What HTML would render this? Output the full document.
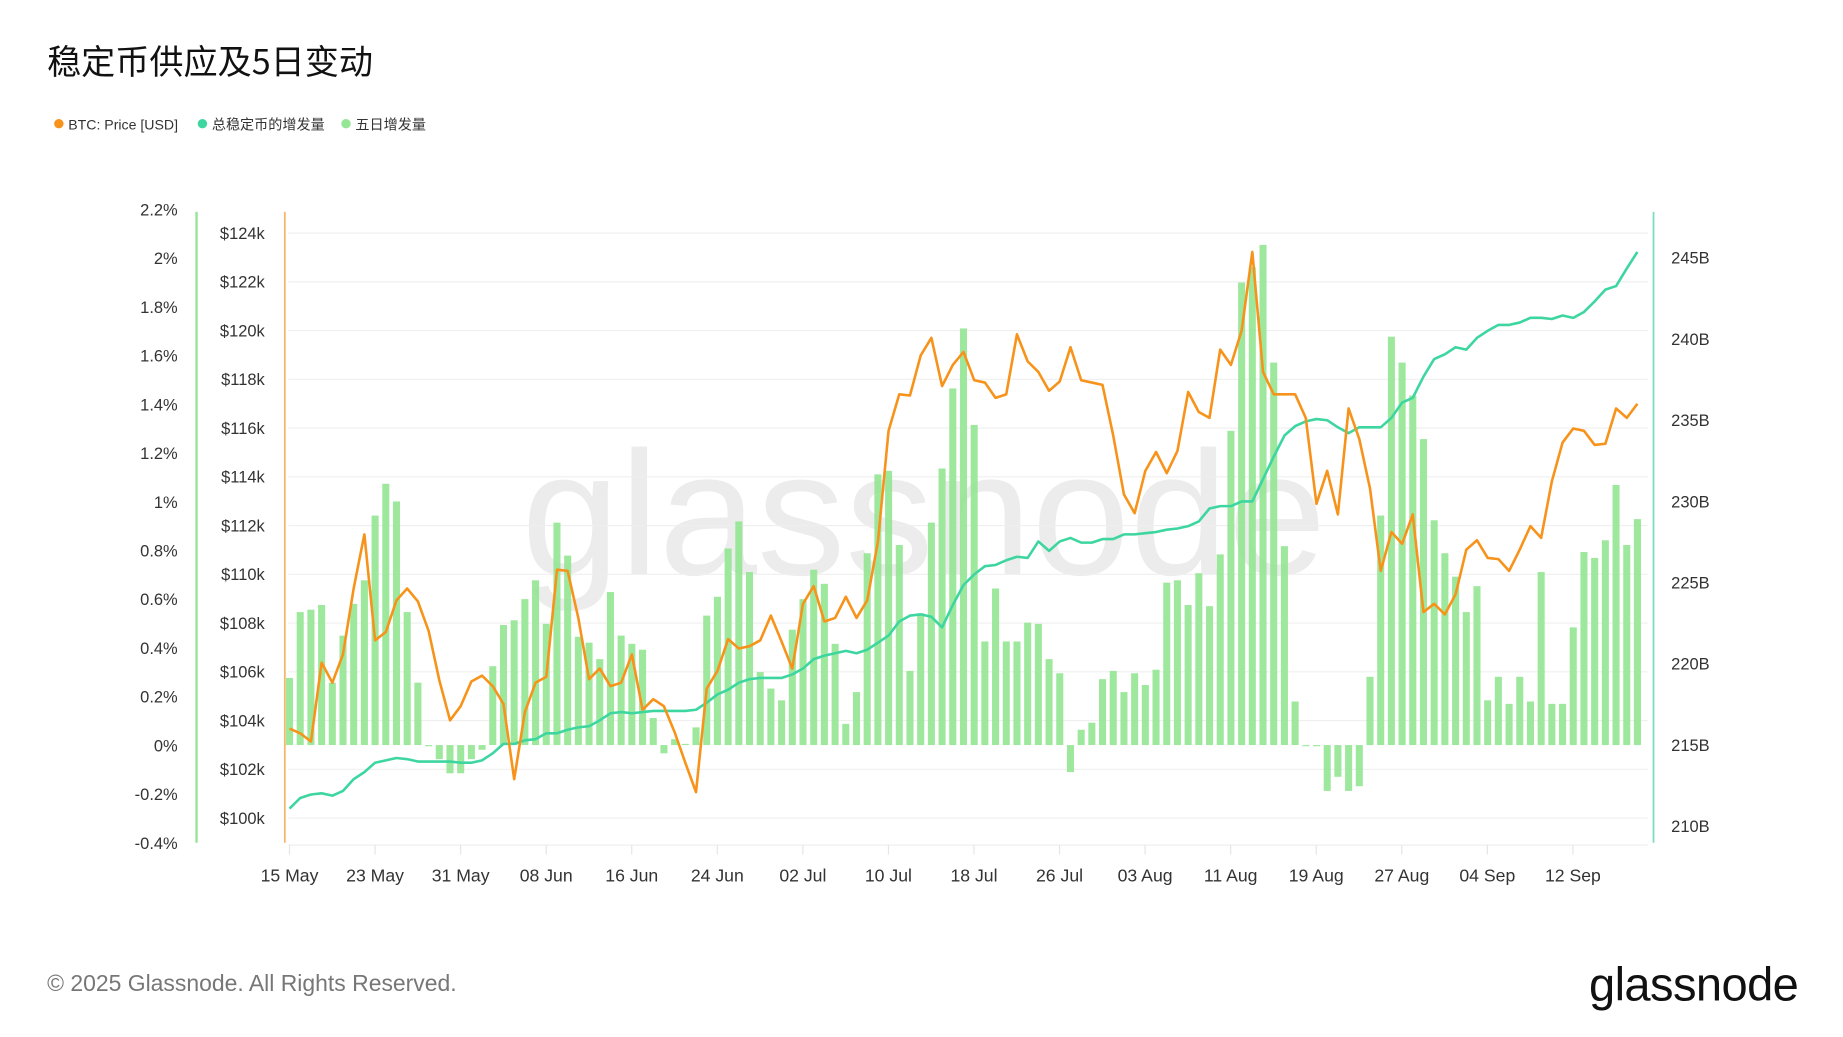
<!DOCTYPE html>
<html><head><meta charset="utf-8"><style>
html,body{margin:0;padding:0;background:#fff;}
svg{display:block;font-family:"Liberation Sans","Noto Sans CJK SC",sans-serif;}
</style></head><body>
<svg id="c" width="1843" height="1037" viewBox="0 0 1566 881" xmlns="http://www.w3.org/2000/svg">
<rect width="1566" height="881" fill="#fff"/>
<text x="40" y="63" font-size="29" fill="#111" font-family="'Noto Sans CJK SC',sans-serif">稳定币供应及5日变动</text>
<circle cx="50" cy="105" r="4" fill="#f7931a"/><text x="58" y="110" font-size="12" fill="#333">BTC: Price [USD]</text>
<circle cx="172" cy="105" r="4" fill="#3dd6a0"/><text x="180" y="110" font-size="12" fill="#333">总稳定币的增发量</text>
<circle cx="294" cy="105" r="4" fill="#94e594"/><text x="302" y="110" font-size="12" fill="#333">五日增发量</text>
<text x="785" y="488" font-size="150" fill="#ececec" text-anchor="middle">glassnode</text>
<g id="grid"></g>
<g id="bars"></g>
<g id="lines"></g>
<text x="40" y="842" font-size="19.5" fill="#777">© 2025 Glassnode. All Rights Reserved.</text>
<text x="1528" y="850" font-size="40" fill="#111" text-anchor="end" letter-spacing="-0.5">glassnode</text>
</svg>
<script>
var NS="http://www.w3.org/2000/svg";
function el(p,t,a,txt){var e=document.createElementNS(NS,t);for(var k in a)e.setAttribute(k,a[k]);if(txt!==undefined)e.textContent=txt;document.getElementById(p).appendChild(e);return e;}
for(var i=0;i<=12;i++){var v=124-2*i;var y=198+i*41.42;
 el("grid","line",{x1:245,x2:1400,y1:y,y2:y,stroke:"#efefef","stroke-width":1});
 el("grid","text",{x:225,y:y+5,"font-size":14,fill:"#333","text-anchor":"end"},"$"+v+"k");}
var pl=["2.2%","2%","1.8%","1.6%","1.4%","1.2%","1%","0.8%","0.6%","0.4%","0.2%","0%","-0.2%","-0.4%"];
for(var i=0;i<pl.length;i++){el("grid","text",{x:151,y:183+i*41.4,"font-size":14,fill:"#333","text-anchor":"end"},pl[i]);}
var rl=["245B","240B","235B","230B","225B","220B","215B","210B"];
for(var i=0;i<rl.length;i++){el("grid","text",{x:1420,y:224+i*69,"font-size":14,fill:"#333"},rl[i]);}
el("grid","line",{x1:167,x2:167,y1:180,y2:716,stroke:"#94e594","stroke-width":2});
el("grid","line",{x1:242,x2:242,y1:180,y2:716,stroke:"#f5b56a","stroke-width":1.5});
el("grid","line",{x1:1405,x2:1405,y1:180,y2:716,stroke:"#7adcc0","stroke-width":1.5});
el("grid","line",{x1:245,x2:1400,y1:718,y2:718,stroke:"#eee","stroke-width":1});
var xl=["15 May","23 May","31 May","08 Jun","16 Jun","24 Jun","02 Jul","10 Jul","18 Jul","26 Jul","03 Aug","11 Aug","19 Aug","27 Aug","04 Sep","12 Sep"];
for(var i=0;i<xl.length;i++){var x=246+i*72.7;el("grid","line",{x1:x,x2:x,y1:718,y2:726,stroke:"#e5e5e5"});
 el("grid","text",{x:x,y:749,"font-size":15,fill:"#333","text-anchor":"middle"},xl[i]);}
function X(i){return 246+i*9.09;}
var price=[619,623,630,563,580,556,500,454,544,537,510,500,511,536,578,612,600,579,574,583,598,662,605,580,575,484,485,525,577,568,583,580,556,603,594,600,622,648,673,585,570,543,551,549,544,523,545,568,513,498,528,525,507,525,510,460,366,335,336,302,287,328,310,299,323,325,338,335,284,307,316,332,324,295,323,325,327,370,420,436,400,384,402,383,333,350,355,297,310,281,214,316,335,335,335,355,428,400,437,347,373,415,485,452,462,437,520,513,522,505,467,459,474,475,485,467,447,457,409,376,364,366,378,377,347,355,343];
var sup=[687,678,675,674,676,672,662,656,648,646,644,645,647,647,647,647,648,648,646,640,632,632,629,628,623,623,620,618,617,612,606,605,606,605,604,604,604,604,603,597,590,586,580,577,576,576,576,573,568,560,557,555,553,555,552,546,540,528,523,522,524,533,514,497,488,481,480,476,473,474,460,468,460,457,461,461,458,458,454,454,453,452,450,449,447,443,432,430,430,426,426,407,388,370,362,358,356,357,363,368,363,363,363,355,342,338,320,305,301,295,297,287,281,276,276,274,270,270,271,268,270,265,256,246,243,228,214];
var bars=[576,520,518,514,580,540,513,493,438,411,426,520,580,634,645,657,657,645,637,566,531,527,509,493,530,444,472,541,546,560,503,540,547,552,610,640,628,632,618,523,507,466,443,486,571,585,595,535,509,484,496,547,615,588,470,403,400,463,570,521,444,398,330,279,361,545,500,545,545,529,530,560,572,656,620,614,577,570,588,572,582,569,495,493,514,487,515,471,366,240,227,208,308,464,596,634,634,672,660,672,668,575,438,286,308,336,373,442,470,490,520,498,595,575,598,575,596,486,598,598,533,469,474,459,412,463,441];
for(var i=0;i<bars.length;i++){var t=bars[i],y0=633;var y=Math.min(t,y0),h=Math.max(Math.abs(t-y0),1);
 el("bars","rect",{x:X(i)-3,y:y,width:6,height:h,fill:"#94e594","fill-opacity":0.9});}
function pts(a){return a.map(function(v,i){return X(i).toFixed(1)+","+v;}).join(" ");}
el("lines","polyline",{points:pts(sup),fill:"none",stroke:"#3dd6a0","stroke-width":2.2,"stroke-linejoin":"round"});
el("lines","polyline",{points:pts(price),fill:"none",stroke:"#f7931a","stroke-width":2.2,"stroke-linejoin":"round"});
</script>
</body></html>
